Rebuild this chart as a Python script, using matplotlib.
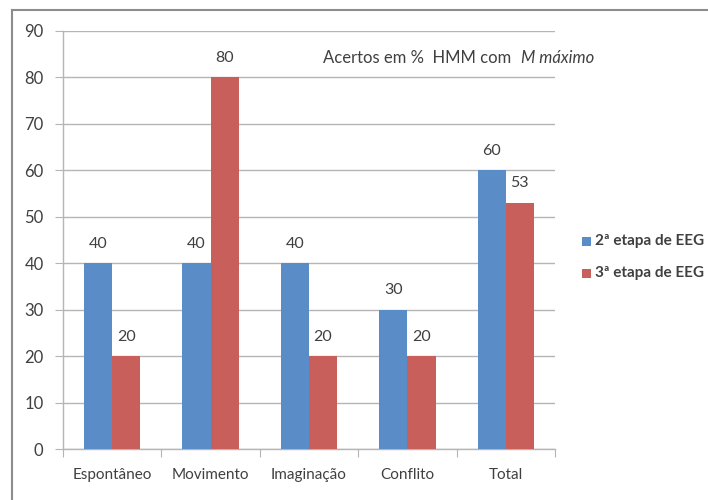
import matplotlib
matplotlib.use("Agg")
import matplotlib.pyplot as plt
import numpy as np
from matplotlib.patches import Rectangle

plt.rcParams['font.family'] = ['Lato', 'DejaVu Sans']

categories = ["Espontâneo", "Movimento", "Imaginação", "Conflito", "Total"]
etapa2 = [40, 40, 40, 30, 60]
etapa3 = [20, 80, 20, 20, 53]
series_names = ["2ª etapa de EEG", "3ª etapa de EEG"]
yticks = [0, 10, 20, 30, 40, 50, 60, 70, 80, 90]

blue = "#5A8DC8"
red = "#C95F5A"
grid_c = "#B5B5B5"
text_c = "#404040"

fig = plt.figure(figsize=(7.08, 5.0), dpi=100)
fig.patch.set_facecolor("white")

# chart frame (left and top edges)
fig.add_artist(plt.Line2D([12/708, 12/708], [0, 1 - 10/500], transform=fig.transFigure,
                          color="#8C8C8C", lw=1.5))
fig.add_artist(plt.Line2D([12/708, 1], [1 - 10/500, 1 - 10/500], transform=fig.transFigure,
                          color="#8C8C8C", lw=1.5))

ax = fig.add_axes([63/708, 1 - 449/500, (555 - 63)/708, (449 - 31)/500])
x = np.arange(len(categories))
w = 0.2857
b1 = ax.bar(x - w/2, etapa2, w, color=blue, zorder=3)
b2 = ax.bar(x + w/2, etapa3, w, color=red, zorder=3)

for bars, vals in ((b1, etapa2), (b2, etapa3)):
    for r, v in zip(bars, vals):
        ax.annotate(f"{v}", (r.get_x() + r.get_width()/2, v), xytext=(0, 9),
                    textcoords="offset points", ha="center", va="bottom",
                    fontsize=11.5, color=text_c)

ax.set_xlim(-0.5, len(categories) - 0.5)
ax.set_ylim(0, 90)
ax.set_yticks(yticks)
ax.set_yticklabels([str(t) for t in yticks], fontsize=12, color=text_c)
ax.yaxis.grid(True, color=grid_c, lw=1, zorder=0)
ax.set_axisbelow(True)

ax.set_xticks(np.arange(len(categories) + 1) - 0.5)
ax.set_xticklabels([])
ax.set_xticks(x, minor=True)
ax.set_xticklabels(categories, minor=True, fontsize=11, color=text_c)
ax.tick_params(axis="x", which="minor", length=0, pad=14)
ax.tick_params(axis="x", which="major", length=6, color=grid_c, direction="out")
ax.tick_params(axis="y", length=6, color=grid_c, direction="out", pad=8)

for s in ("top", "right"):
    ax.spines[s].set_visible(False)
for s in ("left", "bottom"):
    ax.spines[s].set_color(grid_c)
    ax.spines[s].set_linewidth(1)

fig.text(323/708, 1 - 58/500, "Acertos em %  HMM com", fontsize=12, color=text_c,
         ha="left", va="center")
fig.text(521/708, 1 - 58/500, "M máximo", fontsize=12, color=text_c, style="italic",
         ha="left", va="center")

# legend
for i, (name, c) in enumerate(zip(series_names, (blue, red))):
    yy = 1 - (241 + 32*i)/500
    fig.add_artist(Rectangle((582/708, yy - 4.5/500), 9/708, 9/500, transform=fig.transFigure,
                             facecolor=c, edgecolor="none"))
    fig.text(595/708, yy, name, fontsize=11, fontweight="bold", color=text_c,
             ha="left", va="center")

fig.savefig("out.png", dpi=100)
